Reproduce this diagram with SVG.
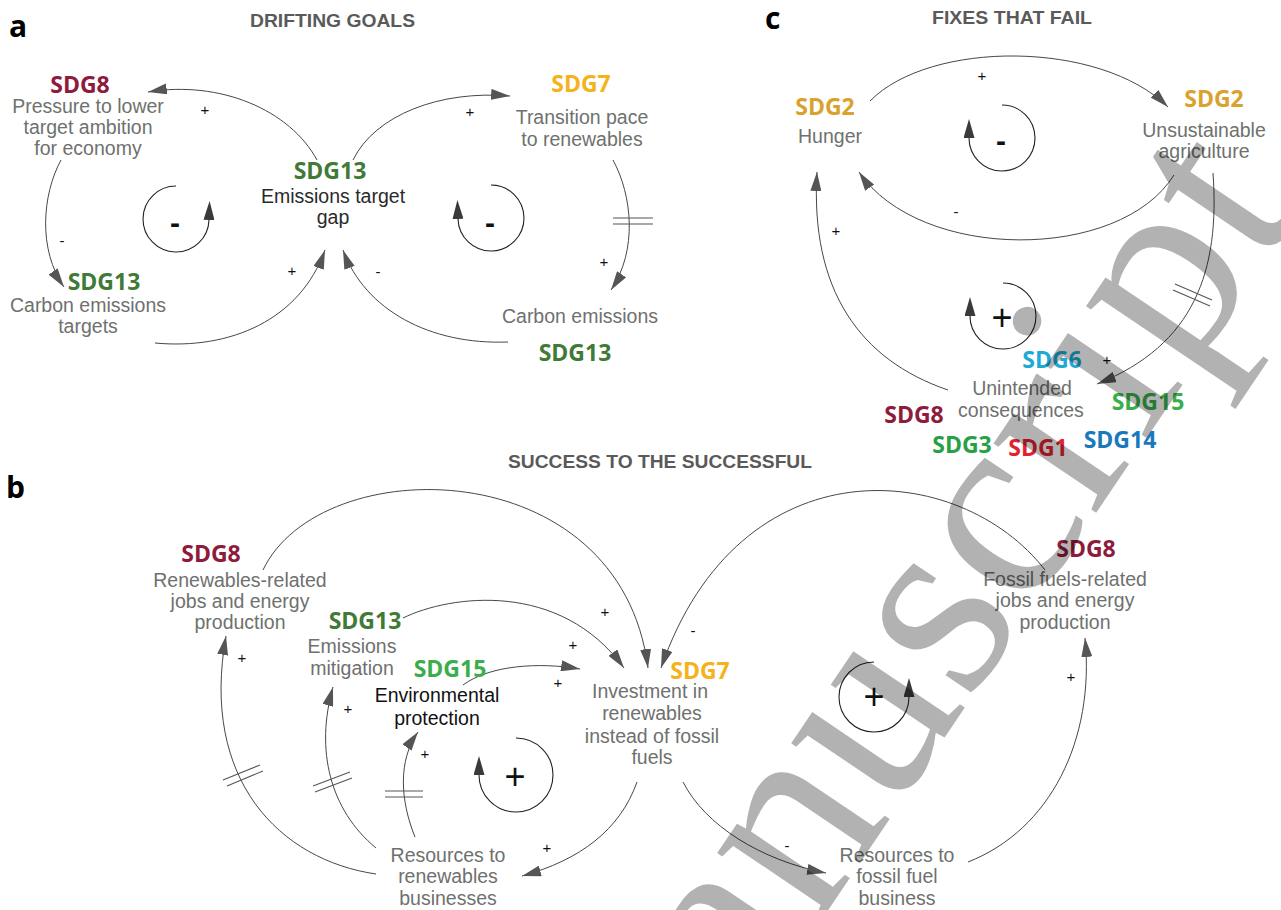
<svg xmlns="http://www.w3.org/2000/svg" width="1281" height="910" viewBox="0 0 1281 910">
<style>
.bg{fill:#ffffff}
.plab{font-family:"Open Sans","Liberation Sans",sans-serif;font-weight:700;fill:#000}
.title{font-family:"Liberation Sans",Arial,sans-serif;font-weight:700;font-size:18px;fill:#5a5a5a}
.sdg{font-family:"Open Sans","Liberation Sans",sans-serif;font-weight:700;font-size:23px;text-anchor:middle}
.nt{font-family:"Liberation Sans",Arial,sans-serif;font-size:19.5px;fill:#6e716e;text-anchor:middle}
.dk{fill:#2a2a2a}
.bk{fill:#111}
.pol{font-family:"Liberation Sans",Arial,sans-serif;font-size:15px;fill:#111;text-anchor:middle}
.lsign{font-family:"Liberation Sans",Arial,sans-serif;font-size:36px;fill:#111;text-anchor:middle}
.lminus{font-family:"Liberation Sans",Arial,sans-serif;font-weight:700;font-size:30px;fill:#111;text-anchor:middle}
.c8{fill:#8e1b3c}.c13{fill:#3f7a37}.c7{fill:#f6b21a}.c2{fill:#d9a22e}.c6{fill:#1eaad6}.c15{fill:#3aae4a}.c14{fill:#1a78bd}.c3{fill:#27a046}.c1{fill:#e4222f}
.link{fill:none;stroke:#474747;stroke-width:1}
.loop{fill:none;stroke:#222;stroke-width:1.1}
.delay{stroke:#555;stroke-width:1.1}
.wm{font-family:"Liberation Serif","Times New Roman",serif;font-size:270px;fill:#000;fill-opacity:0.3}
</style>
<defs>
<marker id="arr" markerUnits="userSpaceOnUse" markerWidth="19" markerHeight="11" viewBox="0 0 19 11" refX="19" refY="5.5" orient="auto"><path d="M0,0 L19,5.5 L0,11 z" fill="#555"/></marker>
<marker id="larr" markerUnits="userSpaceOnUse" markerWidth="19" markerHeight="11" viewBox="0 0 19 11" refX="0" refY="5.5" orient="auto"><path d="M0,0 L19,5.5 L0,11 z" fill="#3a3a3a"/></marker>
</defs>
<rect class="bg" x="0" y="0" width="1281" height="910"/>

<g id="panel-labels">
<text class="plab" x="9" y="37" font-size="30">a</text>
<text class="plab" x="6" y="498" font-size="30">b</text>
<text class="plab" x="765" y="29" font-size="30">c</text>
<text class="title" x="250" y="27" textLength="165" lengthAdjust="spacingAndGlyphs">DRIFTING GOALS</text>
<text class="title" x="932" y="24" textLength="160" lengthAdjust="spacingAndGlyphs">FIXES THAT FAIL</text>
<text class="title" x="508" y="468" textLength="304" lengthAdjust="spacingAndGlyphs">SUCCESS TO THE SUCCESSFUL</text>
</g>

<g id="connectors">
<!-- panel a -->
<path class="link" d="M317,160 C290,110 220,80 148,92" marker-end="url(#arr)"/>
<path class="link" d="M61,160 C42,195 38,250 64,287" marker-end="url(#arr)"/>
<path class="link" d="M155,343 C230,350 300,320 325,250" marker-end="url(#arr)"/>
<path class="link" d="M508,342 C430,345 365,310 343,250" marker-end="url(#arr)"/>
<path class="link" d="M353,160 C375,115 440,90 510,96" marker-end="url(#arr)"/>
<path class="link" d="M613,160 C632,195 638,250 611,290" marker-end="url(#arr)"/>
<line class="delay" x1="613" y1="218" x2="653" y2="218"/>
<line class="delay" x1="613" y1="224" x2="653" y2="224"/>
<path class="loop" d="M176,186 A33,33 0 1,0 209,220" marker-end="url(#larr)"/>
<path class="loop" d="M491,185 A33,33 0 1,1 458,219" marker-end="url(#larr)"/>
<!-- panel c -->
<path class="link" d="M870,101 C930,40 1100,40 1168,107" marker-end="url(#arr)"/>
<path class="link" d="M1174,175 C1120,262 920,262 859,172" marker-end="url(#arr)"/>
<path class="link" d="M948,390 C860,360 810,290 817,172" marker-end="url(#arr)"/>
<path class="link" d="M1213,173 C1220,270 1195,345 1097,384" marker-end="url(#arr)"/>
<line class="delay" x1="1175" y1="284" x2="1212" y2="300"/>
<line class="delay" x1="1173" y1="290" x2="1210" y2="306"/>
<path class="loop" d="M1002,105 A33,33 0 1,1 969,138" marker-end="url(#larr)"/>
<path class="loop" d="M1003,283 A33,33 0 1,1 970,316" marker-end="url(#larr)"/>
<!-- panel b -->
<path class="link" d="M263,570 C320,450 620,450 648,668" marker-end="url(#arr)"/>
<path class="link" d="M403,618 C450,595 560,580 624,668" marker-end="url(#arr)"/>
<path class="link" d="M463,685 C490,665 540,662 580,669" marker-end="url(#arr)"/>
<path class="link" d="M1045,570 C960,460 740,440 661,668" marker-end="url(#arr)"/>
<path class="link" d="M637,782 C620,830 580,860 522,876" marker-end="url(#arr)"/>
<path class="link" d="M683,782 C705,825 760,860 826,873" marker-end="url(#arr)"/>
<path class="link" d="M968,862 C1050,830 1095,740 1085,638" marker-end="url(#arr)"/>
<path class="link" d="M376,874 C280,860 200,780 226,636" marker-end="url(#arr)"/>
<path class="link" d="M376,848 C330,810 315,750 333,687" marker-end="url(#arr)"/>
<path class="link" d="M415,837 C400,800 398,760 418,732" marker-end="url(#arr)"/>
<line class="delay" x1="223" y1="780" x2="260" y2="765"/>
<line class="delay" x1="227" y1="786" x2="263" y2="771"/>
<line class="delay" x1="313" y1="786" x2="350" y2="772"/>
<line class="delay" x1="315" y1="792" x2="352" y2="778"/>
<line class="delay" x1="385" y1="791" x2="423" y2="791"/>
<line class="delay" x1="385" y1="797" x2="423" y2="797"/>
<path class="loop" d="M516,738 A37,37 0 1,1 479,775" marker-end="url(#larr)"/>
<path class="loop" d="M874,662 A35,35 0 1,0 909,697" marker-end="url(#larr)"/>
</g>

<g id="polarities">
<text class="pol" x="205" y="115">+</text>
<text class="pol" x="62" y="246">-</text>
<text class="pol" x="292" y="276">+</text>
<text class="pol" x="378" y="277">-</text>
<text class="pol" x="470" y="117">+</text>
<text class="pol" x="604" y="267">+</text>
<text class="lminus" x="175" y="233">-</text>
<text class="lminus" x="490" y="233">-</text>
<text class="pol" x="982" y="81">+</text>
<text class="pol" x="956" y="217">-</text>
<text class="pol" x="836" y="236">+</text>
<text class="pol" x="1107" y="365">+</text>
<text class="lminus" x="1001" y="151">-</text>
<text class="lsign" x="1002" y="330">+</text>
<text class="pol" x="605" y="617">+</text>
<text class="pol" x="573" y="650">+</text>
<text class="pol" x="558" y="688">+</text>
<text class="pol" x="693" y="636">-</text>
<text class="pol" x="547" y="853">+</text>
<text class="pol" x="787" y="851">-</text>
<text class="pol" x="1071" y="682">+</text>
<text class="pol" x="242" y="663">+</text>
<text class="pol" x="348" y="714">+</text>
<text class="pol" x="425" y="759">+</text>
<text class="lsign" x="515" y="789">+</text>
<text class="lsign" x="874" y="709">+</text>
</g>

<g id="node-a-pressure">
<text class="sdg c8" x="80" y="93">SDG8</text>
<text class="nt" x="88" y="113">Pressure to lower</text>
<text class="nt" x="88" y="134">target ambition</text>
<text class="nt" x="88" y="155">for economy</text>
</g>
<g id="node-a-targets">
<text class="sdg c13" x="104" y="290">SDG13</text>
<text class="nt" x="88" y="312">Carbon emissions</text>
<text class="nt" x="88" y="333">targets</text>
</g>
<g id="node-a-gap">
<text class="sdg c13" x="330" y="179">SDG13</text>
<text class="nt dk" x="333" y="203">Emissions target</text>
<text class="nt dk" x="333" y="224">gap</text>
</g>
<g id="node-a-transition">
<text class="sdg c7" x="581" y="92">SDG7</text>
<text class="nt" x="582" y="124">Transition pace</text>
<text class="nt" x="582" y="146">to renewables</text>
</g>
<g id="node-a-carbon">
<text class="nt" x="580" y="323">Carbon emissions</text>
<text class="sdg c13" x="575" y="361">SDG13</text>
</g>

<g id="node-c-hunger">
<text class="sdg c2" x="825" y="115">SDG2</text>
<text class="nt" x="830" y="143">Hunger</text>
</g>
<g id="node-c-agriculture">
<text class="sdg c2" x="1214" y="107">SDG2</text>
<text class="nt" x="1204" y="137">Unsustainable</text>
<text class="nt" x="1204" y="158">agriculture</text>
</g>
<g id="node-c-unintended">
<text class="sdg c6" x="1052" y="368">SDG6</text>
<text class="nt" x="1022" y="395">Unintended</text>
<text class="nt" x="1021" y="417">consequences</text>
<text class="sdg c15" x="1148" y="410">SDG15</text>
<text class="sdg c8" x="914" y="423">SDG8</text>
<text class="sdg c14" x="1120" y="448">SDG14</text>
<text class="sdg c3" x="962" y="453">SDG3</text>
<text class="sdg c1" x="1038" y="456">SDG1</text>
</g>

<g id="node-b-renewjobs">
<text class="sdg c8" x="211" y="562">SDG8</text>
<text class="nt" x="240" y="587">Renewables-related</text>
<text class="nt" x="240" y="608">jobs and energy</text>
<text class="nt" x="240" y="629">production</text>
</g>
<g id="node-b-mitigation">
<text class="sdg c13" x="365" y="629">SDG13</text>
<text class="nt" x="352" y="653">Emissions</text>
<text class="nt" x="352" y="675">mitigation</text>
</g>
<g id="node-b-environment">
<text class="sdg c15" x="450" y="677">SDG15</text>
<text class="nt bk" x="437" y="702">Environmental</text>
<text class="nt bk" x="437" y="725">protection</text>
</g>
<g id="node-b-investment">
<text class="sdg c7" x="700" y="679">SDG7</text>
<text class="nt" x="650" y="698">Investment in</text>
<text class="nt" x="652" y="720">renewables</text>
<text class="nt" x="652" y="743">instead of fossil</text>
<text class="nt" x="652" y="764">fuels</text>
</g>
<g id="node-b-resrenew">
<text class="nt" x="448" y="862">Resources to</text>
<text class="nt" x="448" y="883">renewables</text>
<text class="nt" x="448" y="905">businesses</text>
</g>
<g id="node-b-resfossil">
<text class="nt" x="897" y="862">Resources to</text>
<text class="nt" x="897" y="883">fossil fuel</text>
<text class="nt" x="897" y="905">business</text>
</g>
<g id="node-b-fossiljobs">
<text class="sdg c8" x="1086" y="557">SDG8</text>
<text class="nt" x="1065" y="586">Fossil fuels-related</text>
<text class="nt" x="1065" y="607">jobs and energy</text>
<text class="nt" x="1065" y="629">production</text>
</g>

<g id="watermark">
<text class="wm" transform="translate(632,1201) rotate(-56)">manuscript</text>
</g>
</svg>
